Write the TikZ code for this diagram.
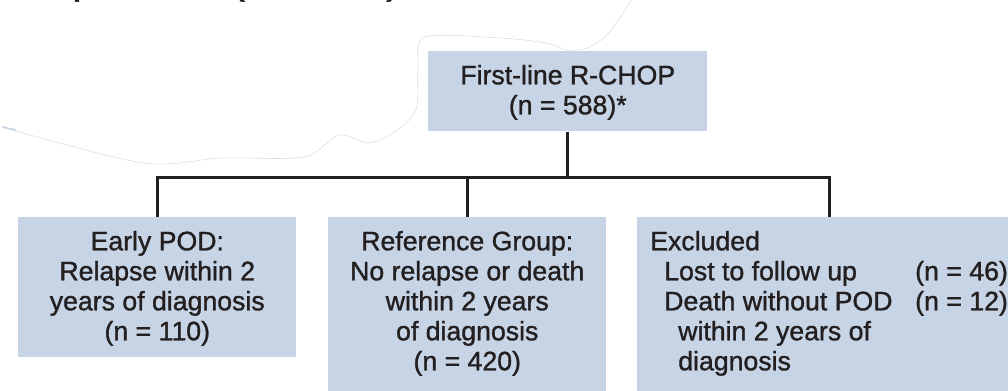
\documentclass[tikz,border=0pt]{standalone}
\usepackage{fontspec}
\setmainfont{Liberation Sans}[FakeBold=1.2]
\newlength{\pxu}\setlength{\pxu}{0.75pt}
\definecolor{boxfill}{RGB}{198,212,229}
\definecolor{inkgray}{RGB}{35,31,32}
\newcommand{\boxtxt}[3]{\parbox[c][#2\pxu][t]{#1\pxu}{\vspace*{12\pxu}#3}}

\begin{document}
\begin{tikzpicture}[x=0.75pt,y=-0.75pt,
    box/.style={fill=boxfill,inner sep=0pt,anchor=north west,text=inkgray,
      font=\fontsize{20}{22.5}\selectfont},
    link/.style={line width=3\pxu,draw=inkgray}]

    \useasboundingbox (0,0) rectangle (1008,391);

    % Cut-off heading at the top edge
    \node[anchor=base west,inner sep=0pt,text=inkgray,
      font=\fontsize{31.5}{36}\selectfont] (title) at (72,-7) {patients (n = 588)};

    % Faint torn outline
    \draw[gray!25,line width=0.6\pxu] plot[smooth] coordinates {(5,128) (143,163) (221,158)
      (304,157) (339,135) (368,143) (393,133) (416,110) (418,67) (425,37) (500,38)
      (546,43) (567,50) (587,48) (607,35) (625,10) (632,-2)};
    \draw[boxfill,line width=1.5\pxu] (2,127) -- (16,130);

    % Boxes
    \node[box] (top) at (428,51) {\boxtxt{279}{80}{\centering\strut
      First-line R-CHOP\\(n = 588)*}};
    \node[box] (early) at (18,217) {\boxtxt{278}{140}{\centering\strut
      Early POD:\\Relapse within 2\\years of diagnosis\\(n = 110)}};
    \node[box] (ref) at (328,217) {\boxtxt{278}{185}{\centering\strut
      Reference Group:\\No relapse or death\\within 2 years\\of diagnosis\\(n = 420)}};
    \node[box] (excl) at (637,217) {\boxtxt{384}{185}{\raggedright\leftskip=13\pxu\strut
      Excluded\\
      \hspace*{14\pxu}\makebox[251\pxu][l]{Lost to follow up}(n = 46)\\
      \hspace*{14\pxu}\makebox[251\pxu][l]{Death without POD}(n = 12)\\
      \hspace*{28\pxu}within 2 years of\\
      \hspace*{28\pxu}diagnosis}};

    % Connectors
    \coordinate (bar) at (568,178);
    \draw[link] (top.south) -- (top.south |- bar);
    \draw[link] (early.north) -- (early.north |- bar) -- (excl.north |- bar) -- (excl.north);
    \draw[link] (ref.north |- bar) -- (ref.north);

\end{tikzpicture}
\end{document}
